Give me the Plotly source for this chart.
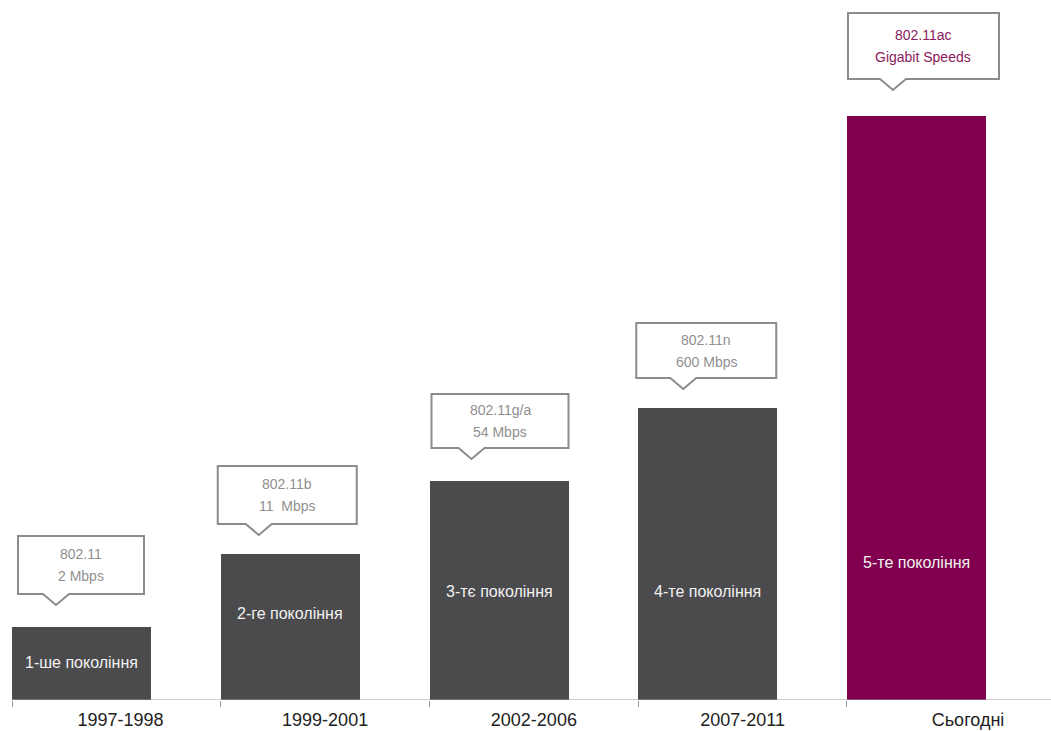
import plotly.graph_objects as go

periods = ["1997-1998", "1999-2001", "2002-2006", "2007-2011", "Сьогодні"]
generation = [1, 2, 3, 4, 8]
bar_labels = ["1-ше покоління", "2-ге покоління", "3-тє покоління", "4-те покоління", "5-те покоління"]
label_heights = [0.52, 1.19, 1.48, 1.48, 1.88]
standards = ["802.11", "802.11b", "802.11g/a", "802.11n", "802.11ac"]
speeds = ["2 Mbps", "11  Mbps", "54 Mbps", "600 Mbps", "Gigabit Speeds"]

GRAY = "#4b4a4d"
PURPLE = "#80004f"
colors = [GRAY, GRAY, GRAY, GRAY, PURPLE]
FONT = "Liberation Sans, Arial, sans-serif"

# callout geometry (pixels): left offset, width, height, gap above bar, tip offset
BOX_STYLE = [
    dict(dx=6, w=126, h=58, gap=22, tip=44),
    dict(dx=-3, w=139, h=58, gap=19, tip=38),
    dict(dx=2, w=137, h=54, gap=22, tip=42),
    dict(dx=-2, w=140, h=55, gap=19, tip=45),
    dict(dx=1, w=151, h=66, gap=26, tip=46),
]

idx = list(range(len(periods)))
tick_pos = [0.02, 0.0, 0.0, 0.0, 0.08]
tick_pos = [i + d for i, d in zip(idx, tick_pos)]

fig = go.Figure()
fig.add_trace(go.Bar(
    x=idx, y=generation, width=0.666, offset=-0.5,
    marker=dict(color=colors, line=dict(width=0)),
    hoverinfo="skip", showlegend=False,
))

shapes = []
annotations = []
for i in idx:
    left = i - 0.5
    top = generation[i]
    last = i == len(idx) - 1
    s = BOX_STYLE[i]
    dx, w, h, gap, tip = s["dx"], s["w"], s["h"], s["gap"], s["tip"]
    hw = 13
    ph = 11
    yb = gap + ph
    yt = yb + h
    path = (f"M {dx},{yb} L {tip-hw},{yb} L {tip},{gap} L {tip+hw},{yb} "
            f"L {dx+w},{yb} L {dx+w},{yt} L {dx},{yt} Z")
    shapes.append(dict(
        type="path", xref="x", yref="y", xsizemode="pixel", ysizemode="pixel",
        xanchor=left, yanchor=top, path=path,
        line=dict(color="#8c8c8c", width=2), fillcolor="white", layer="above",
    ))
    tcol = "#8a1a5c" if last else "#8f8f8f"
    for line_text, dy in ((standards[i], 11), (speeds[i], -11)):
        annotations.append(dict(
            x=left, y=top, xref="x", yref="y", xanchor="center", yanchor="middle",
            xshift=dx + w / 2, yshift=yb + h / 2 + dy,
            text=line_text, showarrow=False,
            font=dict(family=FONT, size=14, color=tcol), align="center",
        ))
    annotations.append(dict(
        x=i - 0.5 + 0.333, y=label_heights[i], xref="x", yref="y",
        xanchor="center", yanchor="middle",
        text=bar_labels[i], showarrow=False,
        font=dict(family=FONT, size=16, color="#f2f2f2"),
    ))

shapes.append(dict(type="line", xref="x", yref="y", x0=-0.5, x1=4.48, y0=0, y1=0,
                   line=dict(color="#9a9a9a", width=1.2), layer="above"))

fig.update_layout(
    width=1051, height=731,
    margin=dict(l=0, r=0, t=0, b=31),
    paper_bgcolor="white", plot_bgcolor="white",
    shapes=shapes, annotations=annotations,
    bargap=0,
    xaxis=dict(
        range=[-0.5575, 4.4773], tickvals=tick_pos, ticktext=periods,
        showgrid=False, zeroline=False, showline=False, ticks="",
        tickfont=dict(family=FONT, size=18, color="#1e1e1e"),
        minor=dict(tickmode="array", tickvals=[-0.5, 0.5, 1.5, 2.5, 3.5],
                   ticks="outside", ticklen=6, tickcolor="#9a9a9a", tickwidth=1),
        ticklabelstandoff=7,
    ),
    yaxis=dict(range=[0, 700 / 73], visible=False, showgrid=False, zeroline=False),
)

fig.write_html("out.html", config={"displayModeBar": False},
               post_script="document.body.style.margin='0';document.body.style.overflow='hidden';")
